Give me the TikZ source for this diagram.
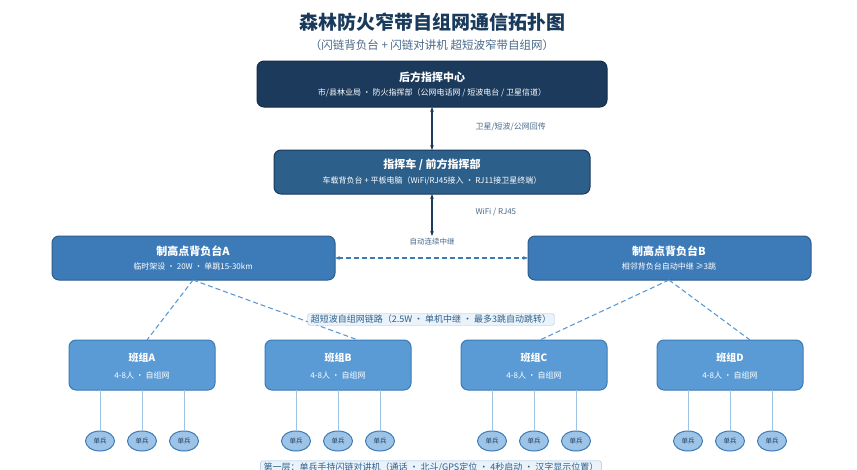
\documentclass[tikz,border=0pt]{standalone}
\usepackage{fontspec}
\setmainfont{Noto Sans CJK SC}
\usetikzlibrary{arrows.meta,shapes.geometric}
\definecolor{c1}{HTML}{1B3A5C}
\definecolor{c2}{HTML}{2D5F8B}
\definecolor{c3}{HTML}{3D7AB8}
\definecolor{c4}{HTML}{5B9BD5}
\definecolor{c5}{HTML}{9DC3E6}
\definecolor{lab}{HTML}{EAF2FA}
\definecolor{tt}{HTML}{1A3A5C}
\definecolor{gt}{HTML}{4A6A8A}
\begin{document}
\begin{tikzpicture}[x=1pt,y=-1pt,
 box/.style={rounded corners=7pt,line width=1pt,inner sep=0pt},
 tl/.style={text=white,font=\bfseries\fontsize{11}{13}\selectfont},
 sl/.style={text=white,font=\fontsize{8}{10}\selectfont},
 solder/.style={ellipse,draw=c3,fill=c5,line width=1pt,minimum width=29pt,minimum height=20pt,inner sep=0pt,font=\fontsize{6.5}{7}\selectfont,text=c1},
 lbl/.style={font=\fontsize{8}{10}\selectfont,text=gt},
 dline/.style={draw=c4,line width=1.1pt,dash pattern=on 5pt off 3pt},
 tag/.style={draw=c5,fill=lab,rounded corners=2pt,font=\fontsize{9}{11}\selectfont,text=c2,inner xsep=3pt,inner ysep=1.5pt}]
\useasboundingbox (0,0) rectangle (857,469);
\fill[white] (0,0) rectangle (857,469);
\node[font=\bfseries\fontsize{19}{22}\selectfont,text=tt] (title) at (432,22) {森林防火窄带自组网通信拓扑图};
\node[font=\fontsize{11.5}{13}\selectfont,text=gt] (sub) at (432,45) {（闪链背负台 + 闪链对讲机 超短波窄带自组网）};
% top
\path[box,fill=c1,draw=c1!80!black] (257,61) rectangle (607,107);
\coordinate (topb) at (432,107);
\node[tl] (t1) at (432,77) {后方指挥中心};
\node[sl] (t1s) at (432,93) {市/县林业局 · 防火指挥部（公网电话网 / 短波电台 / 卫星信道）};
\path[box,fill=c2,draw=c1] (274,150) rectangle (590,194);
\coordinate (midt) at (432,150);
\coordinate (midb) at (432,194);
\node[tl] (t2) at (432,165) {指挥车 / 前方指挥部};
\node[sl] (t2s) at (432,181) {车载背负台 + 平板电脑（WiFi/RJ45接入 · RJ11接卫星终端）};
\draw[c1,line width=1.4pt,{Stealth[length=5pt]}-{Stealth[length=5pt]}] (topb) -- (midt);
\node[lbl,anchor=west] (l1) at (472,127) {卫星/短波/公网回传};
\coordinate (arr2) at (432,236);
\draw[c1,line width=1.4pt,{Stealth[length=5pt]}-{Stealth[length=5pt]}] (midb) -- (arr2);
\node[lbl,anchor=west] (l2) at (472,212) {WiFi / RJ45};
\node[lbl,font=\fontsize{7.5}{9}\selectfont] (l3) at (432,242) {自动连续中继};
% relays
\path[box,fill=c3,draw=c2] (52,236) rectangle (335,280);
\path[box,fill=c3,draw=c2] (528,236) rectangle (811,280);
\node[tl] (ra) at (193,251) {制高点背负台A};
\node[sl] (ras) at (193,266) {临时架设 · 20W · 单跳15-30km};
\node[tl] (rb) at (669,251) {制高点背负台B};
\node[sl] (rbs) at (669,266) {相邻背负台自动中继 ≥3跳};
\coordinate (rar) at (335,258); \coordinate (rbl) at (528,258);
\draw[c3,line width=1.6pt,dash pattern=on 5pt off 3pt,{Stealth[length=5pt]}-{Stealth[length=5pt]}] (rar) -- (rbl);
\coordinate (rab) at (193,280); \coordinate (rbb) at (669,280);
% teams
\foreach \n/\x/\t in {A/142/班组A,B/338/班组B,C/534/班组C,D/730/班组D}{
 \path[box,fill=c4,draw=c3] (\x-73,340) rectangle (\x+73,390);
 \coordinate (team\n) at (\x,340);
 \node[tl,font=\bfseries\fontsize{10}{12}\selectfont] (tn\n) at (\x,358) {\t};
 \node[sl] (ts\n) at (\x,375) {4-8人 · 自组网};
 \foreach \d/\k in {-42/1,0/2,42/3}{
  \node[solder] (s\n\k) at (\x+\d,441) {单兵};
  \coordinate (c\n\k) at (\x+\d,390);
  \draw[c5,line width=0.8pt] (c\n\k) -- (s\n\k);
 }
}
\coordinate (tA) at (147,340); \coordinate (tB) at (358,340);
\coordinate (tC) at (540,340); \coordinate (tD) at (750,340);
\draw[dline] (rab) -- (tA); \draw[dline] (rab) -- (tB);
\draw[dline] (rbb) -- (tC); \draw[dline] (rbb) -- (tD);
\node[tag] (link) at (431,319.5) {超短波自组网链路（2.5W · 单机中继 · 最多3跳自动跳转）};
\node[tag] (layer) at (431,467) {第一层：单兵手持闪链对讲机（通话 · 北斗/GPS定位 · 4秒启动 · 汉字显示位置）};
\end{tikzpicture}
\end{document}
